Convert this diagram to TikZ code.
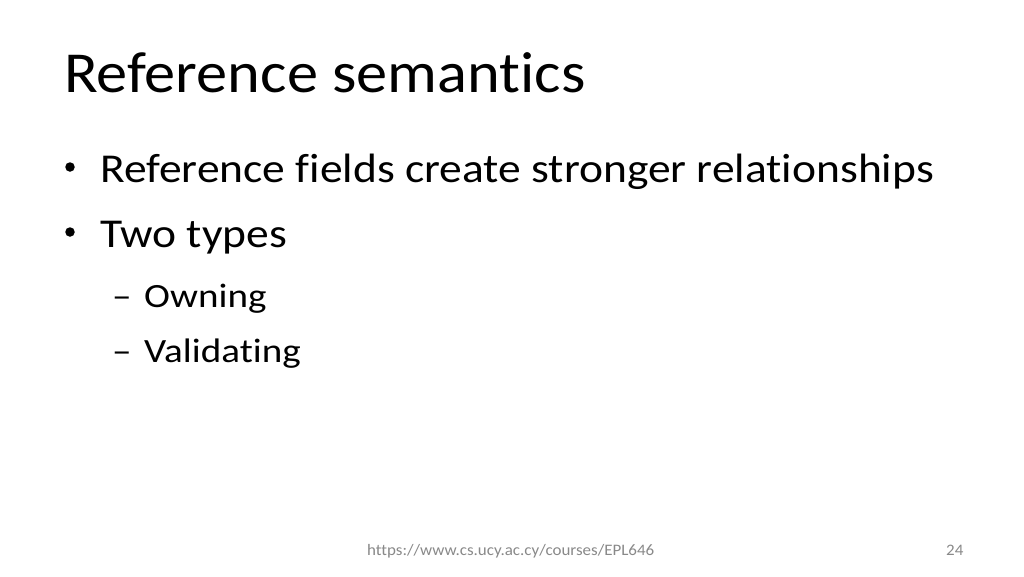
\documentclass[tikz,border=0pt]{standalone}
\usepackage{fontspec}
\setmainfont[Ligatures=NoCommon]{Carlito}
\newfontfamily\titlefont[Ligatures=NoCommon,FakeStretch=1.075]{Carlito}
\newfontfamily\lvlonefont[Ligatures=NoCommon,FakeStretch=1.11]{Carlito}
\newfontfamily\lvltwofont[Ligatures=NoCommon,FakeStretch=1.15]{Carlito}
\newfontfamily\footfont[Ligatures=NoCommon,FakeStretch=1.06]{Carlito}
\definecolor{footgray}{HTML}{898989}
\tikzset{
  titletext/.style={anchor=base west, inner sep=0pt, font=\titlefont\fontsize{58}{70}\selectfont},
  lvlone/.style={anchor=base west, inner sep=0pt, font=\lvlonefont\fontsize{41}{50}\selectfont},
  lvltwo/.style={anchor=base west, inner sep=0pt, font=\lvltwofont\fontsize{34}{42}\selectfont},
  bulletdot/.style={circle, fill=black, inner sep=0pt, minimum size=9.5pt},
  foottext/.style={anchor=base west, inner sep=0pt, text=footgray, font=\footfont\fontsize{16}{20}\selectfont}
}
\begin{document}
\begin{tikzpicture}[x=1pt,y=-1pt]
\useasboundingbox[fill=white] (0,0) rectangle (1024,576);
\node[titletext] (title) at (64,92) {Reference semantics};
\node[bulletdot] (b1) at (70,167) {};
\node[lvlone] (t1) at (100,182) {Reference fields create stronger relationships};
\node[bulletdot] (b2) at (70,232) {};
\node[lvlone] (t2) at (100,247) {Two types};
\node[lvltwo] (d1) at (112,307) {–};
\node[lvltwo] (s1) at (144,307) {Owning};
\node[lvltwo] (d2) at (112,362) {–};
\node[lvltwo] (s2) at (144,362) {Validating};
\node[foottext] (url) at (367,555) {https://www.cs.ucy.ac.cy/courses/EPL646};
\node[foottext] (num) at (946,555) {24};
\end{tikzpicture}
\end{document}
